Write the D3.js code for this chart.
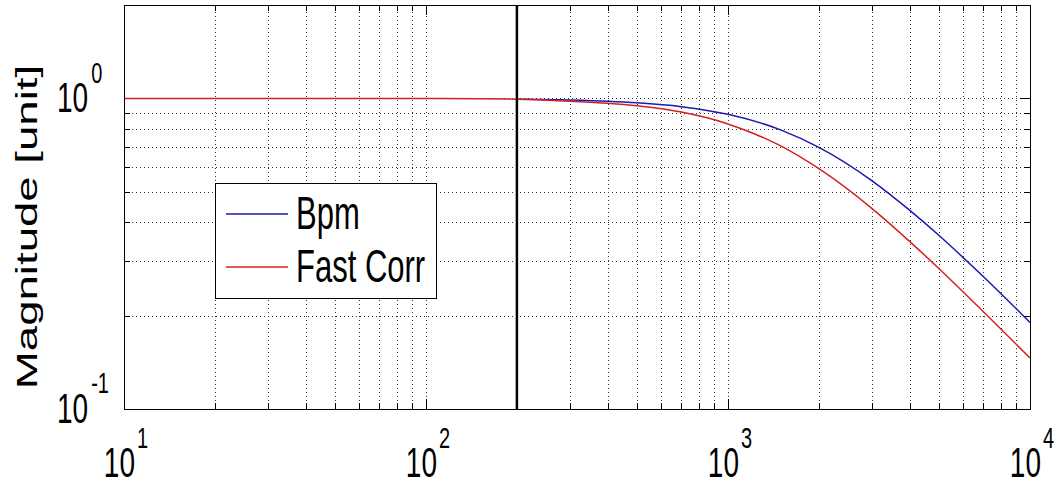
<!DOCTYPE html>
<html>
<head>
<meta charset="utf-8">
<script src="https://cdn.jsdelivr.net/npm/d3@7"></script>
<style>
  html, body { margin: 0; padding: 0; background: #fff; }
  svg { display: block; }
  text { font-family: "Liberation Sans", Arial, sans-serif; fill: #000; }
</style>
</head>
<body>
<svg id="chart" width="1054" height="485"></svg>
<script>
// ---- data ----
const bpmFreq = [200, 300, 400, 500, 700, 1000, 1500, 2000, 3000, 4000, 5000, 7000, 10000];
const bpmMag  = [0.995, 0.988, 0.979, 0.968, 0.941, 0.889, 0.791, 0.696, 0.543, 0.436, 0.362, 0.267, 0.190];
const fcFreq  = [10, 100, 200, 300, 400, 500, 700, 1000, 1500, 2000, 3000, 4000, 5000, 7000, 10000];
const fcMag   = [1.0, 1.0, 0.995, 0.980, 0.965, 0.947, 0.904, 0.828, 0.702, 0.594, 0.442, 0.346, 0.283, 0.206, 0.146];
const markerFreq = [200];
const xMajor = [10, 100, 1000, 10000];
const xMajorExp = ["1", "2", "3", "4"];
const yMajor = [0.1, 1];
const yMajorExp = ["-1", "0"];
const seriesNames = ["Bpm", "Fast Corr"];
const yTitle = "Magnitude [unit]";

const xMinor = [];
[10, 100, 1000].forEach(d => { for (let k = 2; k <= 9; k++) xMinor.push(d * k); });
const yMinor = [0.2, 0.3, 0.4, 0.5, 0.6, 0.7, 0.8, 0.9, 2];

// ---- layout ----
const L = 124, R = 1030, T = 5, B = 409;
const SY = 1.52; // vertical stretch of text in the reference
const svg = d3.select("#chart");
const x = d3.scaleLog().domain([10, 10000]).range([L, R]);
const y = d3.scaleLog().domain([0.1, 2]).range([B, T]);

// grid
const gridStyle = g => {
  g.select(".domain").remove();
  g.selectAll(".tick line").attr("stroke", "#333").attr("stroke-width", 1)
    .attr("stroke-dasharray", "1,3").attr("shape-rendering", "crispEdges");
};
svg.append("g").attr("transform", `translate(0,${B})`)
  .call(d3.axisBottom(x).tickValues(xMinor.concat([100, 1000])).tickSize(-(B - T)).tickFormat(""))
  .call(gridStyle);
svg.append("g").attr("transform", `translate(${L},0)`)
  .call(d3.axisLeft(y).tickValues(yMinor.concat([1])).tickSize(-(R - L)).tickFormat(""))
  .call(gridStyle);

// ticks (inside, all four sides)
const tickStyle = g => {
  g.select(".domain").remove();
  g.selectAll(".tick line").attr("stroke", "#000").attr("stroke-width", 1).attr("shape-rendering", "crispEdges");
};
const addTicks = (axisFn, vals, size, tr) =>
  svg.append("g").attr("transform", tr).call(axisFn.tickValues(vals).tickSize(size).tickFormat("")).call(tickStyle);
addTicks(d3.axisBottom(x), xMajor, -10, `translate(0,${B})`);
addTicks(d3.axisBottom(x), xMinor, -6, `translate(0,${B})`);
addTicks(d3.axisTop(x), xMajor, -10, `translate(0,${T})`);
addTicks(d3.axisTop(x), xMinor, -6, `translate(0,${T})`);
addTicks(d3.axisLeft(y), yMajor, -10, `translate(${L},0)`);
addTicks(d3.axisLeft(y), yMinor, -6, `translate(${L},0)`);
addTicks(d3.axisRight(y), yMajor, -10, `translate(${R},0)`);
addTicks(d3.axisRight(y), yMinor, -6, `translate(${R},0)`);

// lines
const line = d3.line().x(d => x(d[0])).y(d => y(d[1])).curve(d3.curveMonotoneX);
svg.append("path").datum(bpmFreq.map((f, i) => [f, bpmMag[i]]))
  .attr("d", line).attr("fill", "none").attr("stroke", "#1a1ab0").attr("stroke-width", 1.5);
svg.append("path").datum(fcFreq.map((f, i) => [f, fcMag[i]]))
  .attr("d", line).attr("fill", "none").attr("stroke", "#d42020").attr("stroke-width", 1.5);

// vertical marker
svg.selectAll(".marker").data(markerFreq).enter().append("line")
  .attr("x1", d => x(d)).attr("x2", d => x(d)).attr("y1", T).attr("y2", B)
  .attr("stroke", "#000").attr("stroke-width", 2.5);

// frame
svg.append("rect").attr("x", L).attr("y", T).attr("width", R - L).attr("height", B - T)
  .attr("fill", "none").attr("stroke", "#000").attr("stroke-width", 1).attr("shape-rendering", "crispEdges");

// x tick labels
xMajor.forEach((v, i) => {
  const g = svg.append("g").attr("transform", `translate(${x(v) + 2},477) scale(1,${SY})`);
  const t = g.append("text").attr("text-anchor", "middle");
  t.append("tspan").attr("font-size", 28).text("10");
  t.append("tspan").attr("font-size", 20).attr("dy", -19).attr("dx", 2).text(xMajorExp[i]);
});
// y tick labels
yMajor.forEach((v, i) => {
  const g = svg.append("g").attr("transform", `translate(57,${y(v) + 14}) scale(1,${SY})`);
  const t = g.append("text").attr("text-anchor", "start");
  t.append("tspan").attr("font-size", 28).text("10");
  t.append("tspan").attr("font-size", 20).attr("dy", -19.5).attr("dx", 3).text(yMajorExp[i]);
});

// y title
svg.append("text").attr("transform", `translate(37,227) scale(1,${SY}) rotate(-90)`)
  .attr("text-anchor", "middle").attr("font-size", 30).text(yTitle);

// legend
const lg = svg.append("g");
lg.append("rect").attr("x", 215).attr("y", 183).attr("width", 221).attr("height", 115)
  .attr("fill", "#fff").attr("stroke", "#000").attr("stroke-width", 1).attr("shape-rendering", "crispEdges");
const legColors = ["#1a1ab0", "#d42020"];
const legY = [214, 267];
seriesNames.forEach((n, i) => {
  lg.append("line").attr("x1", 226).attr("x2", 288).attr("y1", legY[i]).attr("y2", legY[i])
    .attr("stroke", legColors[i]).attr("stroke-width", 1.5);
  lg.append("g").attr("transform", `translate(296,${legY[i] + 15}) scale(1,${SY})`)
    .append("text").attr("font-size", 31).text(n);
});
</script>
</body>
</html>
